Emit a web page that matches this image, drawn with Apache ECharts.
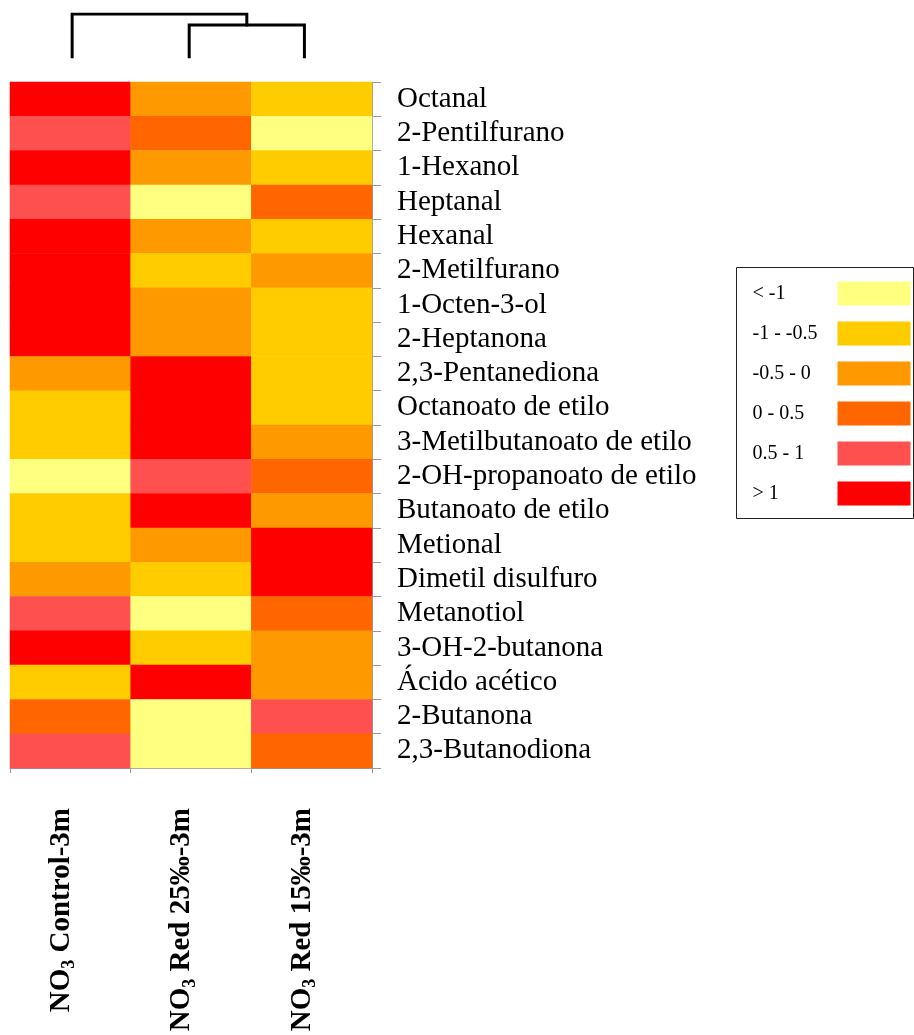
<!DOCTYPE html>
<html>
<head>
<meta charset="utf-8">
<script src="https://cdn.jsdelivr.net/npm/echarts@6/dist/echarts.min.js"></script>
<style>
  html, body { margin: 0; padding: 0; background: #fff; }
  #chart { width: 914px; height: 1035px; }
</style>
</head>
<body>
<div id="chart"></div>
<script>
// Compounds (rows, top to bottom)
const compounds = [
  'Octanal', '2-Pentilfurano', '1-Hexanol', 'Heptanal', 'Hexanal',
  '2-Metilfurano', '1-Octen-3-ol', '2-Heptanona', '2,3-Pentanediona',
  'Octanoato de etilo', '3-Metilbutanoato de etilo', '2-OH-propanoato de etilo',
  'Butanoato de etilo', 'Metional', 'Dimetil disulfuro', 'Metanotiol',
  '3-OH-2-butanona', 'Ácido acético', '2-Butanona', '2,3-Butanodiona'
];

// Samples (columns, left to right)
const samples = ['NO3 Control-3m', 'NO3 Red 25‰-3m', 'NO3 Red 15‰-3m'];

// Standardised abundance per sample, one value per compound
const control = [1.4, 0.7, 1.3, 0.8, 1.5, 1.5, 1.4, 1.4, -0.2, -0.7,
                 -0.8, -1.2, -0.9, -0.8, -0.4, 0.8, 1.2, -0.8, 0.3, 0.6];
const red25   = [-0.3, 0.3, -0.3, -1.3, -0.4, -0.7, -0.3, -0.2, 1.4, 1.4,
                 1.5, 0.7, 1.3, -0.3, -0.7, -1.3, -0.9, 1.3, -1.3, -1.2];
const red15   = [-0.8, -1.2, -0.7, 0.2, -0.8, -0.3, -0.8, -0.9, -0.9, -0.8,
                 -0.4, 0.2, -0.3, 1.5, 1.4, 0.3, -0.2, -0.4, 0.6, 0.3];

// Colour classes
const classLabels = ['< -1', '-1 - -0.5', '-0.5 - 0', '0 - 0.5', '0.5 - 1', '> 1'];
const classColors = ['#FFFF80', '#FFCC00', '#FF9900', '#FF6600', '#FF5050', '#FF0000'];

// Dendrogram of the samples: leaf positions (in column units) and merge heights
const leafPos = [0.515, 1.485, 2.44];
const mergeSub = 1.49;   // samples 2 and 3
const mergeRoot = 2.0;   // sample 1 with (2, 3)

const columns = [control, red25, red15];
const cells = [];
columns.forEach((col, ci) => col.forEach((v, ri) => cells.push([ci, ri, v])));

const subMid = (leafPos[1] + leafPos[2]) / 2;
const dendro = [
  { coords: [[leafPos[1], 0], [leafPos[1], mergeSub], [leafPos[2], mergeSub], [leafPos[2], 0]] },
  { coords: [[leafPos[0], 0], [leafPos[0], mergeRoot], [subMid, mergeRoot], [subMid, mergeSub]] }
];

const serif = 'Liberation Serif, Times New Roman, serif';

// Legend pieces, label text kept in a fixed-width left-aligned box
const pieces = [
  { lt: -1 }, { gte: -1, lt: -0.5 }, { gte: -0.5, lt: 0 },
  { gte: 0, lt: 0.5 }, { gte: 0.5, lte: 1 }, { gt: 1 }
].map((p, i) => Object.assign(p, { label: '{t|' + classLabels[i] + '}', color: classColors[i] }));

const chart = echarts.init(document.getElementById('chart'), null, { renderer: 'canvas' });

chart.setOption({
  backgroundColor: '#fff',
  animation: false,
  grid: [
    { left: 10, top: 82, width: 362, height: 686 },
    { left: 10, top: 14, width: 362, height: 43 }
  ],
  xAxis: [
    {
      type: 'category', data: samples, gridIndex: 0, position: 'bottom',
      axisLine: { lineStyle: { color: '#999', width: 1 } },
      axisTick: { show: true, length: 5, lineStyle: { color: '#999' } },
      axisLabel: {
        rotate: 90, margin: 40, interval: 0,
        padding: [0, 0, 18, 0],
        formatter: v => '{b|NO}{s|3}{b|' + v.replace(/^NO3/, '') + '}',
        rich: {
          b: { fontFamily: serif, fontWeight: 'bold', fontSize: 29, color: '#000' },
          s: { fontFamily: serif, fontWeight: 'bold', fontSize: 18, color: '#000', padding: [16, 0, 0, 0] }
        }
      },
      splitLine: { show: false }
    },
    { type: 'value', gridIndex: 1, min: 0, max: 3, show: false }
  ],
  yAxis: [
    {
      type: 'category', data: compounds, gridIndex: 0, inverse: true, position: 'right',
      axisLine: { lineStyle: { color: '#999', width: 1 } },
      axisTick: { show: true, length: 9, lineStyle: { color: '#999' } },
      axisLabel: { margin: 25, interval: 0, fontFamily: serif, fontSize: 29, color: '#000' },
      splitLine: { show: false }
    },
    { type: 'value', gridIndex: 1, min: 0, max: 2, show: false }
  ],
  visualMap: {
    type: 'piecewise',
    dimension: 2,
    seriesIndex: 0,
    pieces: pieces,
    orient: 'vertical',
    inverse: true,
    align: 'right',
    itemSymbol: 'rect',
    left: 736, top: 267,
    itemWidth: 73, itemHeight: 24, itemGap: 16, textGap: 10,
    padding: [14, 3, 13, 16],
    borderColor: '#222', borderWidth: 1, backgroundColor: '#fff',
    selectedMode: false,
    textStyle: {
      fontFamily: serif, fontSize: 20, color: '#000',
      rich: { t: { fontFamily: serif, fontSize: 20, color: '#000', width: 75, align: 'left' } }
    }
  },
  series: [
    {
      type: 'heatmap', data: cells, xAxisIndex: 0, yAxisIndex: 0,
      itemStyle: { borderWidth: 0 },
      emphasis: { disabled: true }
    },
    {
      type: 'lines', coordinateSystem: 'cartesian2d', xAxisIndex: 1, yAxisIndex: 1,
      polyline: true, data: dendro, silent: true,
      lineStyle: { color: '#000', width: 3, opacity: 1, cap: 'square' }
    }
  ]
});
</script>
</body>
</html>
